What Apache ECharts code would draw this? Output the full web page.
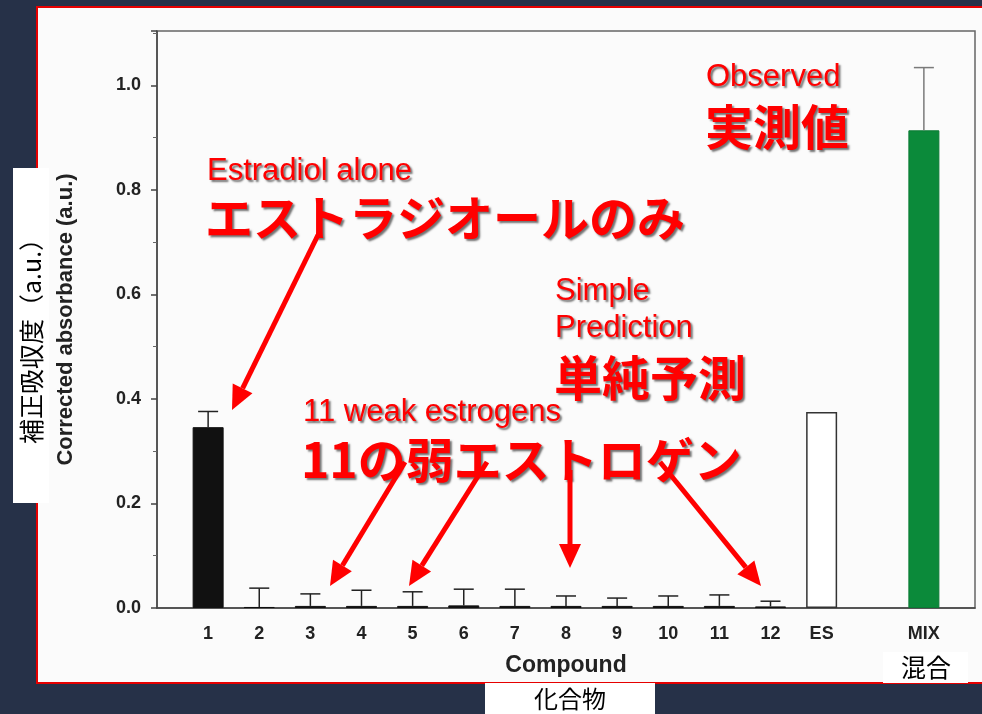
<!DOCTYPE html>
<html>
<head>
<meta charset="utf-8">
<script src="https://cdn.jsdelivr.net/npm/echarts@6/dist/echarts.min.js"></script>
<style>
  html, body { margin: 0; padding: 0; background: #263148; }
  #chart { width: 982px; height: 714px; }
</style>
</head>
<body>
<div id="chart"></div>
<script>
// empty slots keep the gap in front of "1", between ES and MIX, and after MIX
var categories = ['', '1', '2', '3', '4', '5', '6', '7', '8', '9', '10', '11', '12', 'ES', '', 'MIX', ''];
var absorbance = [null, 0.346, 0.002, 0.004, 0.004, 0.004, 0.005, 0.004, 0.004, 0.004, 0.004, 0.004, 0.003, 0.375, null, 0.914, null];
var errorTop = [null, 0.376, 0.038, 0.027, 0.034, 0.031, 0.036, 0.036, 0.023, 0.019, 0.023, 0.025, 0.013, null, null, 1.034, null];
var yTicks = [0, 0.2, 0.4, 0.6, 0.8, 1.0];

var RED = '#ff0000';
var EN_FONT = "'Liberation Sans', Arial, sans-serif";
var JP_FONT = "'Noto Sans CJK JP', sans-serif";

function redText(x, y, text, size, bold, font) {
  return {
    type: 'text', x: x, y: y, z: 50,
    style: {
      text: text,
      font: (bold ? 'bold ' : '') + size + 'px ' + font,
      fill: RED,
      verticalAlign: 'middle',
      textShadowColor: 'rgba(0,0,0,0.55)',
      textShadowBlur: 2,
      textShadowOffsetX: 2,
      textShadowOffsetY: 2
    }
  };
}

function arrow(x1, y1, x2, y2) {
  var ang = Math.atan2(y2 - y1, x2 - x1);
  var L = 24, W = 11;
  var bx = x2 - L * Math.cos(ang), by = y2 - L * Math.sin(ang);
  var nx = -Math.sin(ang), ny = Math.cos(ang);
  return [
    { type: 'line', z: 60, shape: { x1: x1, y1: y1, x2: bx, y2: by }, style: { stroke: RED, lineWidth: 5 } },
    { type: 'polygon', z: 60, shape: { points: [[x2, y2], [bx + nx * W, by + ny * W], [bx - nx * W, by - ny * W]] }, style: { fill: RED } }
  ];
}

var barData = absorbance.map(function (v, i) {
  var cat = categories[i];
  var style = { color: '#111', borderColor: '#111', borderWidth: 1 };
  if (cat === 'ES') style = { color: '#ffffff', borderColor: '#333', borderWidth: 1.5 };
  if (cat === 'MIX') style = { color: '#0b8a3a', borderColor: '#0b7a34', borderWidth: 1 };
  return { value: v, itemStyle: style };
});

var errData = [];
errorTop.forEach(function (v, i) {
  if (v != null) errData.push([i, absorbance[i], v]);
});

var chart = echarts.init(document.getElementById('chart'));

var graphics = [
  { type: 'rect', z: -10, shape: { x: 37, y: 7, width: 960, height: 676 }, style: { fill: '#fbfbfb', stroke: '#e60000', lineWidth: 2 } },
  // Japanese label boxes
  { type: 'rect', z: 40, shape: { x: 13, y: 168, width: 36, height: 335 }, style: { fill: '#ffffff' } },
  { type: 'text', z: 41, x: 31, y: 335, rotation: Math.PI / 2,
    style: { text: '補正吸収度（a.u.）', font: '25px ' + JP_FONT, fill: '#000', align: 'center', verticalAlign: 'middle' } },
  { type: 'rect', z: 40, shape: { x: 485, y: 683, width: 170, height: 31 }, style: { fill: '#ffffff' } },
  { type: 'text', z: 41, x: 570, y: 699,
    style: { text: '化合物', font: '24px ' + JP_FONT, fill: '#000', align: 'center', verticalAlign: 'middle' } },
  { type: 'rect', z: 40, shape: { x: 883, y: 652, width: 85, height: 31 }, style: { fill: '#ffffff' } },
  { type: 'text', z: 41, x: 926, y: 667,
    style: { text: '混合', font: '25px ' + JP_FONT, fill: '#000', align: 'center', verticalAlign: 'middle' } },
  // red annotations
  redText(706, 77, 'Observed', 31, false, EN_FONT),
  redText(705, 127, '実測値', 48, true, JP_FONT),
  redText(207, 171, 'Estradiol alone', 31, false, EN_FONT),
  redText(205, 218, 'エストラジオールのみ', 48, true, JP_FONT),
  redText(555, 291, 'Simple', 31, false, EN_FONT),
  redText(555, 328, 'Prediction', 31, false, EN_FONT),
  redText(554, 378, '単純予測', 48, true, JP_FONT),
  redText(303, 412, '11 weak estrogens', 31, false, EN_FONT),
  redText(301, 460, '11の弱エストロゲン', 48, true, JP_FONT)
]
  .concat(arrow(318, 235, 232, 410))
  .concat(arrow(405, 462, 330, 586))
  .concat(arrow(487, 462, 409, 586))
  .concat(arrow(570, 470, 570, 568))
  .concat(arrow(660, 462, 761, 586));

chart.setOption({
  backgroundColor: '#263148',
  animation: false,
  graphic: graphics,
  grid: {
    left: 157, right: 7, top: 31, bottom: 106,
    show: true, borderColor: '#666', borderWidth: 1.5, backgroundColor: 'transparent'
  },
  xAxis: {
    type: 'category',
    data: categories,
    boundaryGap: false,
    axisLine: { lineStyle: { color: '#444', width: 1.5 } },
    axisTick: { show: false },
    axisLabel: { interval: 0, margin: 17, color: '#222', fontWeight: 'bold', fontSize: 18, fontFamily: EN_FONT },
    name: 'Compound',
    nameLocation: 'middle',
    nameGap: 46,
    nameTextStyle: { color: '#222', fontWeight: 'bold', fontSize: 23, fontFamily: EN_FONT }
  },
  yAxis: {
    type: 'value',
    min: 0, max: 1.104, interval: 0.2,
    splitLine: { show: false },
    axisLine: { show: true, lineStyle: { color: '#444', width: 1.5 } },
    axisTick: { show: true, length: 6, lineStyle: { color: '#444', width: 1.5 } },
    minorTick: { show: true, splitNumber: 2, length: 4, lineStyle: { color: '#666' } },
    axisLabel: {
      margin: 16, color: '#222', fontWeight: 'bold', fontSize: 18, fontFamily: EN_FONT,
      showMaxLabel: false,
      formatter: function (v) { return yTicks.indexOf(+v.toFixed(1)) >= 0 && Math.abs(v - +v.toFixed(1)) < 1e-6 ? v.toFixed(1) : ''; }
    },
    name: 'Corrected absorbance (a.u.)',
    nameLocation: 'middle',
    nameGap: 80,
    nameTextStyle: { color: '#222', fontWeight: 'bold', fontSize: 22, fontFamily: EN_FONT }
  },
  series: [
    {
      type: 'bar',
      data: barData,
      barWidth: 31,
      z: 3
    },
    {
      type: 'custom',
      z: 4,
      data: errData,
      encode: { x: 0, y: [1, 2] },
      renderItem: function (params, api) {
        var i = api.value(0);
        var lo = api.coord([i, api.value(1)]);
        var hi = api.coord([i, api.value(2)]);
        var col = categories[i] === 'MIX' ? '#7a7a7a' : '#222';
        var st = { stroke: col, lineWidth: 1.5 };
        return {
          type: 'group',
          children: [
            { type: 'line', shape: { x1: lo[0], y1: lo[1], x2: hi[0], y2: hi[1] }, style: st },
            { type: 'line', shape: { x1: hi[0] - 10, y1: hi[1], x2: hi[0] + 10, y2: hi[1] }, style: st }
          ]
        };
      }
    }
  ]
});
</script>
</body>
</html>
